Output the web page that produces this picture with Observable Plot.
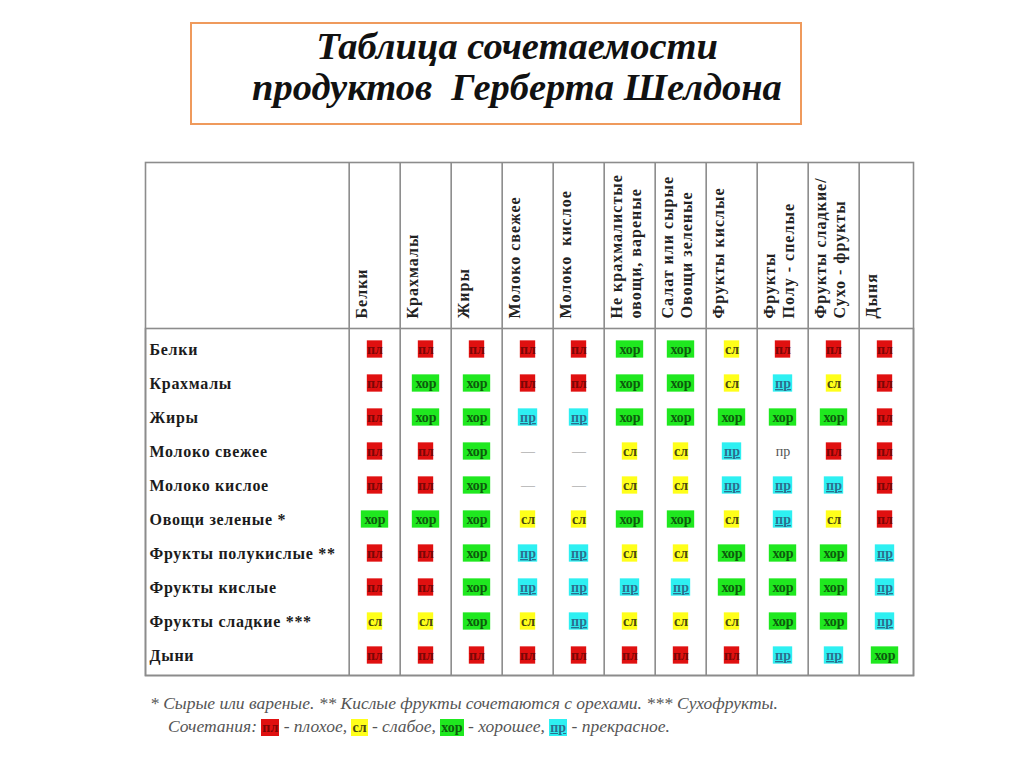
<!DOCTYPE html>
<html>
<head>
<meta charset="utf-8">
<script src="https://cdn.jsdelivr.net/npm/d3@7"></script>
<script src="https://cdn.jsdelivr.net/npm/@observablehq/plot@0.6"></script>
<style>
  html, body { margin: 0; padding: 0; background: #fff; }
  #page { position: relative; width: 1024px; height: 767px; overflow: hidden; }
  #chart { position: absolute; left: 0; top: 0; }
  #titlebox { position: absolute; left: 190px; top: 22px; width: 608px; height: 99px;
    border: 2.5px solid #ef9a5c; }
  #title { position: absolute; left: 217px; top: 26px; width: 600px; text-align: center;
    font-family: "Liberation Serif", "DejaVu Serif", serif; font-style: italic; font-weight: bold;
    font-size: 38.5px; line-height: 41px; color: #111; }
  #note { position: absolute; left: 150px; top: 692px; font-family: "Liberation Serif", serif;
    font-style: italic; font-size: 17.5px; line-height: 23px; color: #555; white-space: nowrap; }
  #note .sw { font-style: normal; font-weight: bold; font-size: 14px; padding: 1px 1px; }
  g[fill="#2c6f8e"] text { text-decoration: underline; }
  g[fill="#222"] text { letter-spacing: 1px; }
  g[fill="#1b1b1b"] text { letter-spacing: 0.7px; }
</style>
</head>
<body>
<div id="page">
  <div id="chart"></div>
  <div id="titlebox"></div>
  <div id="title">Таблица сочетаемости<br>продуктов&nbsp; Герберта Шелдона</div>
  <div id="note"></div>
</div>
<script>
// ---- data ----
const columns = [
  "Белки", "Крахмалы", "Жиры", "Молоко свежее", "Молоко  кислое",
  "Не крахмалистые\nовощи, вареные", "Салат или сырые\nОвощи зеленые",
  "Фрукты кислые", "Фрукты\nПолу - спелые", "Фрукты сладкие/\nСухо - фрукты", "Дыня"
];
const rows = [
  "Белки", "Крахмалы", "Жиры", "Молоко свежее", "Молоко кислое",
  "Овощи зеленые *", "Фрукты полукислые **", "Фрукты кислые",
  "Фрукты сладкие ***", "Дыни"
];
// "пр0" = "пр" without highlight
const values = [
  ["пл","пл","пл","пл","пл","хор","хор","сл","пл","пл","пл"],
  ["пл","хор","хор","пл","пл","хор","хор","сл","пр","сл","пл"],
  ["пл","хор","хор","пр","пр","хор","хор","хор","хор","хор","пл"],
  ["пл","пл","хор","—","—","сл","сл","пр","пр0","пл","пл"],
  ["пл","пл","хор","—","—","сл","сл","пр","пр","пр","пл"],
  ["хор","хор","хор","сл","сл","хор","хор","сл","пр","сл","пл"],
  ["пл","пл","хор","пр","пр","сл","сл","хор","хор","хор","пр"],
  ["пл","пл","хор","пр","пр","пр","пр","хор","хор","хор","пр"],
  ["сл","сл","хор","сл","пр","сл","сл","сл","хор","хор","пр"],
  ["пл","пл","пл","пл","пл","пл","пл","пл","пр","пр","хор"]
];
const legendCodes = ["пл", "сл", "хор", "пр"];
const legendNames = ["плохое", "слабое", "хорошее", "прекрасное"];
const footnote = "* Сырые или вареные. ** Кислые фрукты сочетаются с орехами. *** Сухофрукты.";

// ---- styles ----
const styles = {
  "пл":  {bg: "#e01010", fg: "#7a0606", w: 16, label: "пл"},
  "сл":  {bg: "#ffff1a", fg: "#4a4a10", w: 16, label: "сл"},
  "хор": {bg: "#1fe81f", fg: "#0d5a0d", w: 28, label: "хор"},
  "пр":  {bg: "#2ef0f2", fg: "#2c6f8e", w: 20, label: "пр"},
  "пр0": {bg: null, fg: "#555555", w: 20, label: "пр"},
  "—":   {bg: null, fg: "#8a8a8a", w: 16, label: "—"}
};

const W = 1024, H = 767;
const mL = 345, mR = 111, mT = 328, mB = 92;
const colW = (W - mL - mR) / columns.length;
const rowH = (H - mT - mB) / rows.length;
const boxH = 18;
const lineC = "#8c8c8c";

const cells = rows.flatMap((r, i) => columns.map((c, j) => ({row: r, col: c, code: values[i][j]})));

const cellMarks = [];
for (const code of Object.keys(styles)) {
  const s = styles[code];
  const data = cells.filter(d => d.code === code);
  if (s.bg) {
    cellMarks.push(Plot.cell(data, {
      x: "col", y: "row", fill: s.bg,
      insetLeft: (colW - s.w) / 2, insetRight: (colW - s.w) / 2,
      insetTop: (rowH - boxH) / 2, insetBottom: (rowH - boxH) / 2
    }));
  }
  cellMarks.push(Plot.text(data, {
    x: "col", y: "row", text: () => s.label, fill: s.fg,
    fontSize: 14, fontWeight: code === "—" || code === "пр0" ? "normal" : "bold"
  }));
}

const chart = Plot.plot({
  width: W, height: H,
  marginLeft: mL, marginRight: mR, marginTop: mT, marginBottom: mB,
  x: {domain: columns, padding: 0, axis: null},
  y: {domain: rows, padding: 0, axis: null},
  style: {background: "transparent", fontFamily: "'Liberation Serif', 'DejaVu Serif', serif", color: "#111"},
  marks: [
    Plot.frame({insetLeft: -(mL - 145), insetTop: -(mT - 162), stroke: lineC, strokeWidth: 1.6}),
    Plot.frame({insetLeft: -(mL - 145), stroke: lineC, strokeWidth: 1.6}),
    Plot.ruleX(columns, {x: d => d, dx: -colW / 2, insetTop: -(mT - 162), stroke: lineC, strokeWidth: 1.6}),
    ...cellMarks,
    Plot.text(columns, {
      x: d => d, frameAnchor: "top", text: d => d, rotate: -90,
      textAnchor: "start", lineAnchor: "top", lineHeight: 1.15,
      dx: -colW / 2 + 5, dy: -10, fontWeight: "bold", fontSize: 16, fill: "#222"
    }),
    Plot.text(rows, {
      y: d => d, frameAnchor: "left", text: d => d, textAnchor: "start",
      dx: -(mL - 149), fontWeight: "bold", fontSize: 16, fill: "#1b1b1b"
    })
  ]
});
document.getElementById("chart").appendChild(chart);

// footnote with legend
const note = document.getElementById("note");
const l1 = document.createElement("div");
l1.textContent = footnote;
note.appendChild(l1);
const l2 = document.createElement("div");
l2.style.paddingLeft = "18px";
l2.appendChild(document.createTextNode("Сочетания: "));
legendCodes.forEach((c, i) => {
  const sp = document.createElement("span");
  sp.className = "sw";
  sp.textContent = styles[c].label;
  sp.style.background = styles[c].bg;
  sp.style.color = styles[c].fg;
  if (c === "пр") sp.style.textDecoration = "underline";
  l2.appendChild(sp);
  l2.appendChild(document.createTextNode(" - " + legendNames[i] + (i < legendCodes.length - 1 ? ", " : ".")));
});
note.appendChild(l2);
</script>
</body>
</html>
